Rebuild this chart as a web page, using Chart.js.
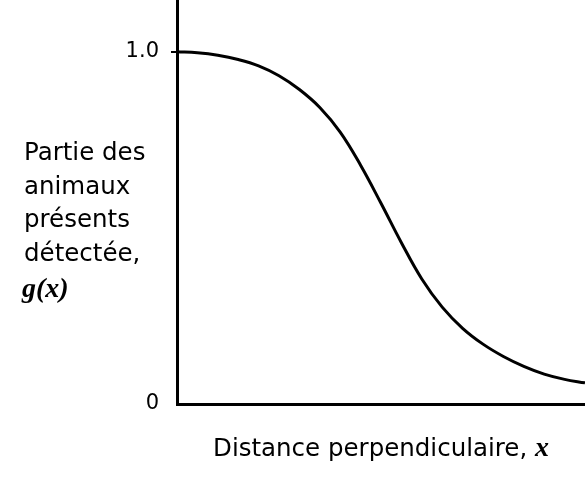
<!DOCTYPE html>
<html>
<head>
<meta charset="utf-8">
<script src="https://cdn.jsdelivr.net/npm/chart.js@4"></script>
<style>
  html, body { margin: 0; padding: 0; background: #fff; }
  #wrap { width: 585px; height: 493px; }
</style>
</head>
<body>
<div id="wrap"><canvas id="detection"></canvas></div>
<script>
// distance (arbitrary units) and proportion detected g(x)
var distance = [0, 0.5, 1, 1.5, 2, 2.5, 3, 3.5, 4, 4.5, 5, 5.5, 6, 6.5, 7, 7.5, 8, 8.5, 9, 9.5, 10];
var detected = [1.0, 0.997, 0.99, 0.978, 0.96, 0.932, 0.893, 0.842, 0.772, 0.678, 0.57,
                0.458, 0.355, 0.275, 0.215, 0.17, 0.135, 0.107, 0.085, 0.07, 0.06];
var yTicks = [0, 1];
var yLabelLines = ["Partie des", "animaux", "présents", "détectée,"];

var font = "'DejaVu Sans', sans-serif";
var mathFont = "italic bold 28px 'Liberation Serif', serif";

var points = [];
for (var i in distance) {
	points.push({x: distance[i], y: detected[i]});
}

// axis titles drawn by hand: the y one is horizontal and multiline
var titles = {
	id: 'titles',
	afterDraw: function(chart) {
		var ctx = chart.ctx;
		var area = chart.chartArea;
		ctx.save();
		ctx.fillStyle = '#000';
		ctx.textAlign = 'left';
		ctx.textBaseline = 'alphabetic';
		ctx.font = "24.5px " + font;
		for (var i = 0; i < yLabelLines.length; i++) {
			ctx.fillText(yLabelLines[i], 24, 160 + i * 33.5);
		}
		ctx.font = mathFont;
		ctx.fillText("g(x)", 22, 297);

		// x title, centred under the plot
		var txt = "Distance perpendiculaire, ";
		ctx.font = "24.5px " + font;
		var w1 = ctx.measureText(txt).width;
		ctx.font = mathFont;
		var w2 = ctx.measureText("x").width;
		var x0 = (area.left + area.right) / 2 - (w1 + w2) / 2;
		ctx.font = "24.5px " + font;
		ctx.fillText(txt, x0, 456);
		ctx.font = mathFont;
		ctx.fillText("x", x0 + w1, 456);
		ctx.restore();
	}
};

var ctx = document.getElementById('detection');

var detectionChart = new Chart(ctx, {
	type: 'line',
	data: {
		datasets: [{
			data: points,
			borderColor: '#000',
			borderWidth: 3,
			pointRadius: 0,
			fill: false,
			tension: 0.4
		}]
	},
	options: {
		responsive: true,
		maintainAspectRatio: false,
		animation: false,
		layout: { padding: 0 },
		plugins: {
			legend: { display: false },
			tooltip: { enabled: false }
		},
		scales: {
			x: {
				type: 'linear',
				min: 0,
				max: 10,
				grid: { display: false, drawTicks: false },
				border: { color: '#000', width: 3 },
				ticks: { display: false },
				afterFit: function(scale) {
					scale.height = 89;
					scale.paddingLeft = 0;
					scale.paddingRight = 0;
				}
			},
			y: {
				min: 0,
				max: 1.147,
				grid: {
					drawOnChartArea: false,
					drawTicks: true,
					tickLength: 6,
					lineWidth: 2,
					color: function(c) { return c.tick && c.tick.value === 1 ? '#000' : 'rgba(0,0,0,0)'; }
				},
				border: { color: '#000', width: 3 },
				afterBuildTicks: function(scale) {
					scale.ticks = yTicks.map(function(v) { return {value: v}; });
				},
				ticks: {
					color: '#000',
					padding: 12,
					font: { family: font, size: 21 },
					callback: function(v) { return v === 0 ? '0' : v.toFixed(1); }
				},
				afterFit: function(scale) {
					scale.width = 177;
					scale.paddingTop = 0;
					scale.paddingBottom = 0;
				}
			}
		}
	},
	plugins: [titles]
});
</script>
</body>
</html>
